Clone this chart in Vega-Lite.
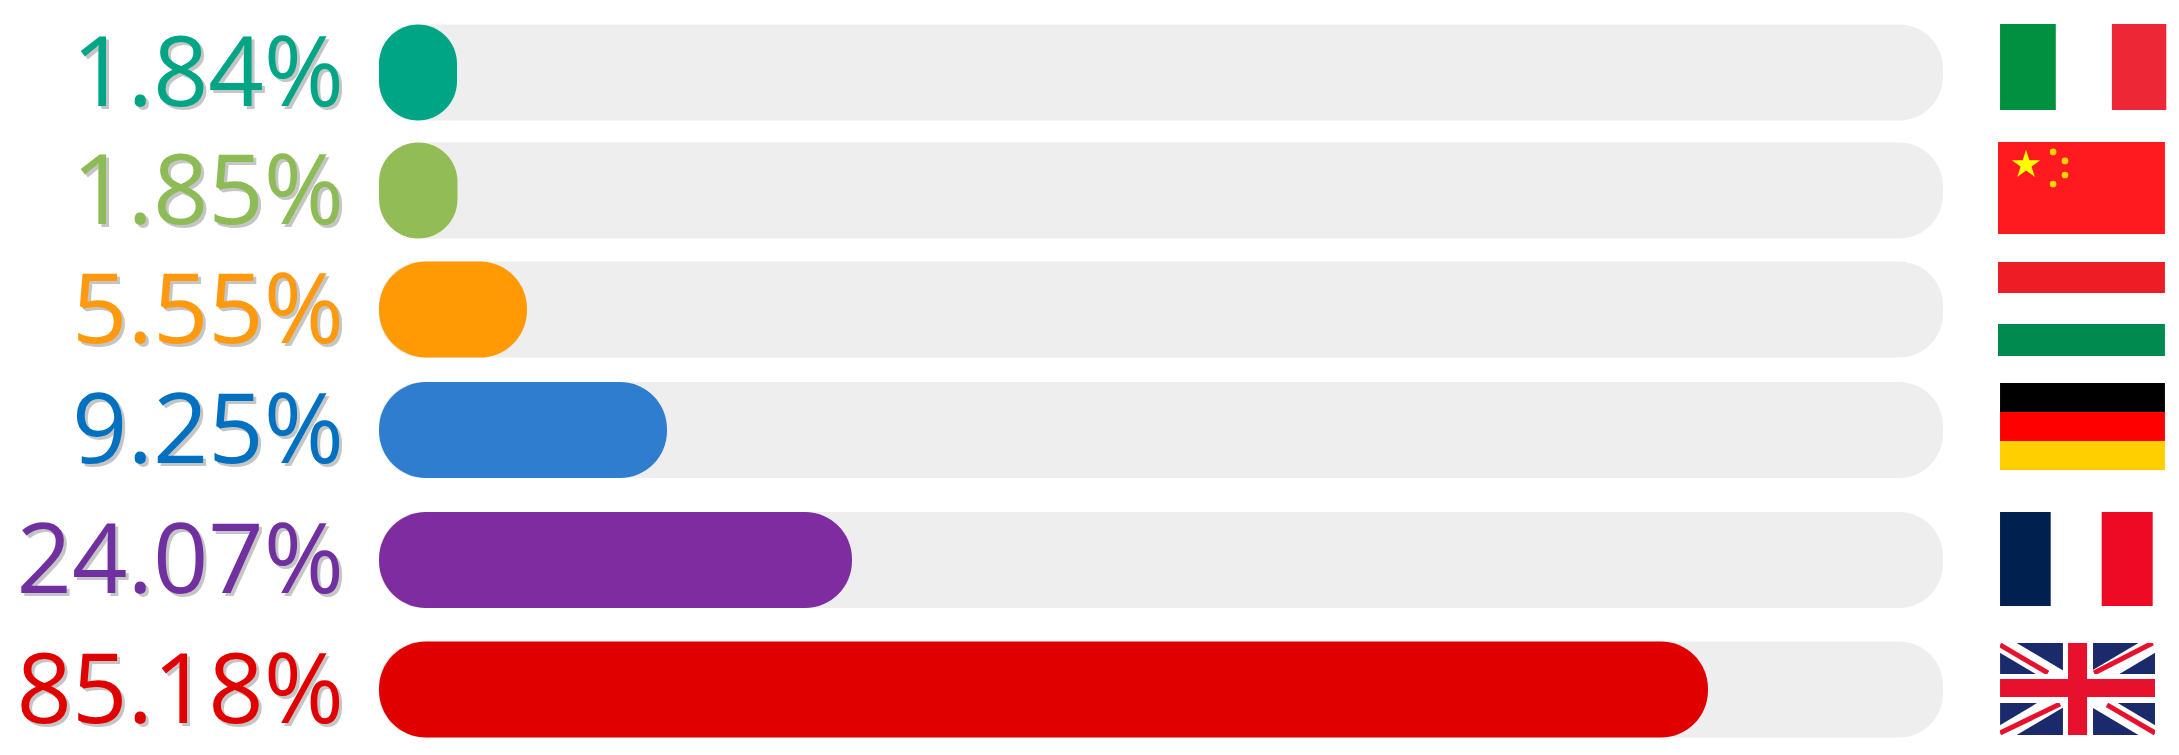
{
"$schema":"https://vega.github.io/schema/vega-lite/v6.json",
"width":2179,"height":755,"padding":0,"autosize":{"type":"none"},
"background":"white","config":{"view":{"stroke":null}},
"datasets":{
"rows":[
{"country":"Italy","rank":1,"share":1.84,"label":"1.84%"},
{"country":"China","rank":2,"share":1.85,"label":"1.85%"},
{"country":"Hungary","rank":3,"share":5.55,"label":"5.55%"},
{"country":"Germany","rank":4,"share":9.25,"label":"9.25%"},
{"country":"France","rank":5,"share":24.07,"label":"24.07%"},
{"country":"United Kingdom","rank":6,"share":85.18,"label":"85.18%"}
],
"stripes":[
{"part":"it-green","a":1.2,"b":34,"c":1,"d":1.729},
{"part":"it-red","a":67,"b":99,"c":1,"d":1.729},
{"part":"cn-red","a":0,"b":98.2,"c":2,"d":2.767},
{"part":"hu-red","a":0,"b":98.2,"c":3,"d":3.256},
{"part":"hu-green","a":0,"b":98.2,"c":3.512,"d":3.777},
{"part":"de-black","a":1.2,"b":98.2,"c":4,"d":4.225},
{"part":"de-red","a":1.2,"b":98.2,"c":4.225,"d":4.45},
{"part":"de-gold","a":1.2,"b":98.2,"c":4.45,"d":4.674},
{"part":"fr-blue","a":1.2,"b":31,"c":5,"d":5.718},
{"part":"fr-red","a":61,"b":91,"c":5,"d":5.718},
{"part":"uk-blue","a":1.2,"b":92.35,"c":6,"d":6.702}
],
"ukDiagonals":[
{"a":1.2,"b":92.35,"c":6,"d":6.702},
{"a":92.35,"b":1.2,"c":6,"d":6.702}
],
"ukRedDiagonals":[
{"a":1.2,"b":29.4,"c":6.015,"d":6.229},
{"a":91,"b":56.5,"c":6,"d":6.229},
{"a":1.2,"b":36.5,"c":6.687,"d":6.466},
{"a":64.1,"b":92.4,"c":6.473,"d":6.687}
],
"ukMask":[
{"a":-3,"b":96,"c":5.94,"d":6},
{"a":-3,"b":96,"c":6.702,"d":6.76},
{"a":-3,"b":1.2,"c":5.94,"d":6.76},
{"a":92.35,"b":96,"c":5.94,"d":6.76}
],
"ukCrossWhite":[
{"a":38.2,"b":55.9,"c":6,"d":6.702},
{"a":1.2,"b":92.35,"c":6.237,"d":6.458}
],
"ukCrossRed":[
{"a":41.2,"b":52.4,"c":6,"d":6.702},
{"a":1.2,"b":92.35,"c":6.275,"d":6.412}
],
"cnStars":[
{"a":16.5,"c":2.19,"kind":"big"},
{"a":32.4,"c":2.083,"kind":"small"},
{"a":39.4,"c":2.158,"kind":"small"},
{"a":39.4,"c":2.275,"kind":"small"},
{"a":32.4,"c":2.35,"kind":"small"}
]
},
"resolve":{"scale":{"x":"independent","y":"independent","color":"independent"}},
"layer":[
{
"data":{"name":"rows"},
"resolve":{"scale":{"color":"independent"}},
"encoding":{
"y":{"field":"rank","type":"quantitative","axis":null,
"scale":{"domain":[1,2,3,4,5,6],"range":[72.5,190.5,309.5,430,560,689.5],"nice":false,"zero":false,"padding":0}}
},
"layer":[
{"mark":{"type":"bar","orient":"horizontal","size":96,"cornerRadius":44,"color":"#eeeeee"},
 "encoding":{"x":{"datum":100,"type":"quantitative","axis":null,
   "scale":{"domain":[0,1.84,1.85,5.55,9.25,24.07,85.18,100],"range":[379,457,457.5,527,667,852,1708,1943],"nice":false,"zero":false,"padding":0}}}},
{"mark":{"type":"bar","orient":"horizontal","size":96,"cornerRadius":47},
 "encoding":{"x":{"field":"share","type":"quantitative","stack":null,"axis":null},
  "color":{"field":"country","type":"nominal","legend":null,
   "scale":{"domain":["Italy","China","Hungary","Germany","France","United Kingdom"],"range":["#00a585","#92bc55","#ff9a05","#2f7dce","#7f2ca0","#e00000"]}}}},
{"mark":{"type":"text","align":"right","baseline":"middle","font":"Open Sans","fontSize":97,"dx":-32,"dy":7,"color":"#777777","opacity":0.42},
 "encoding":{"x":{"datum":0,"type":"quantitative"},"text":{"field":"label"}}},
{"mark":{"type":"text","align":"right","baseline":"middle","font":"Open Sans","fontSize":97,"dx":-35,"dy":4},
 "encoding":{"x":{"datum":0,"type":"quantitative"},"text":{"field":"label"},
  "color":{"field":"country","type":"nominal","legend":null,
   "scale":{"domain":["Italy","China","Hungary","Germany","France","United Kingdom"],"range":["#00a585","#8dbb55","#ff9a0f","#0070c0","#7030a0","#e00000"]}}}}
]
},
{
"encoding":{
"x":{"field":"a","type":"quantitative","axis":null,"scale":{"domain":[0,100],"range":[1998,2168],"nice":false,"zero":false,"padding":0}},
"y":{"field":"c","type":"quantitative","axis":null,"scale":{"domain":[1,2,3,4,5,6,7],"range":[24,142,262,383,512,643,774],"nice":false,"zero":false,"padding":0}}
},
"layer":[
{"data":{"name":"stripes"},"mark":{"type":"rect"},
 "encoding":{"x2":{"field":"b"},"y2":{"field":"d"},
  "color":{"field":"part","type":"nominal","legend":null,
   "scale":{"domain":["it-green","it-red","cn-red","hu-red","hu-green","de-black","de-red","de-gold","fr-blue","fr-red","uk-blue"],
    "range":["#009040","#ee2737","#ff1a20","#ee1c25","#008a4f","#000000","#ff0000","#ffcf00","#002050","#ee0a24","#1b2a6b"]}}}},
{"data":{"name":"cnStars"},"transform":[{"filter":"datum.kind==='big'"}],
 "mark":{"type":"point","filled":true,"color":"#ffff00","opacity":1,"size":900,"shape":"M0,-1L0.224,-0.309L0.951,-0.309L0.363,0.118L0.588,0.809L0,0.382L-0.588,0.809L-0.363,0.118L-0.951,-0.309L-0.224,-0.309Z"}},
{"data":{"name":"cnStars"},"transform":[{"filter":"datum.kind==='small'"}],
 "mark":{"type":"circle","color":"#ffd500","opacity":1,"size":45}},
{"data":{"name":"ukDiagonals"},"mark":{"type":"rule","color":"white","strokeWidth":17},
 "encoding":{"x2":{"field":"b"},"y2":{"field":"d"}}},
{"data":{"name":"ukRedDiagonals"},"mark":{"type":"rule","color":"#e8112d","strokeWidth":5},
 "encoding":{"x2":{"field":"b"},"y2":{"field":"d"}}},
{"data":{"name":"ukMask"},"mark":{"type":"rect","color":"white"},
 "encoding":{"x2":{"field":"b"},"y2":{"field":"d"}}},
{"data":{"name":"ukCrossWhite"},"mark":{"type":"rect","color":"#ffffff"},
 "encoding":{"x2":{"field":"b"},"y2":{"field":"d"}}},
{"data":{"name":"ukCrossRed"},"mark":{"type":"rect","color":"#e8112d"},
 "encoding":{"x2":{"field":"b"},"y2":{"field":"d"}}}
]
}
]
}
